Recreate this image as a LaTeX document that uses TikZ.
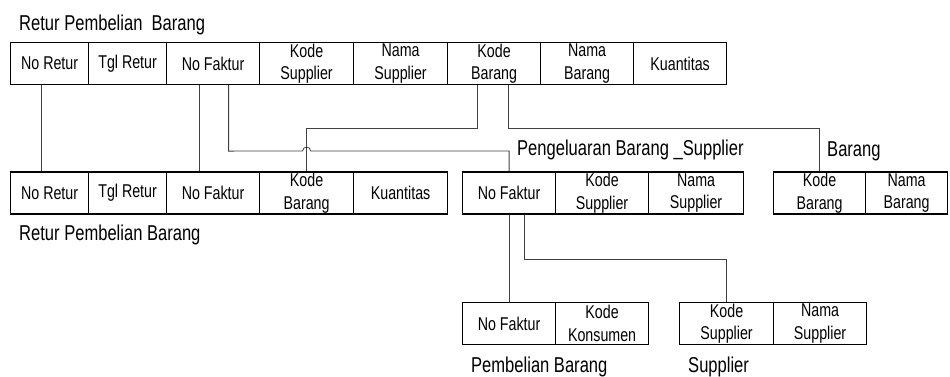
\documentclass[tikz,border=0pt]{standalone}
\usepackage{fontspec}
\setmainfont[FakeStretch=0.77]{Liberation Sans}
\usepackage{tikz}
\usetikzlibrary{positioning}

\tikzset{
  cell/.style={draw,line width=1.2pt,anchor=west,align=center,inner sep=0pt,
    minimum height=42pt,font=\fontsize{18.5}{22.5}\selectfont},
  tbltitle/.style={anchor=base west,inner sep=0pt,font=\fontsize{21.5}{25}\selectfont},
  link/.style={draw=black!75,line width=0.8pt}
}

\begin{document}
\begin{tikzpicture}[x=1pt,y=-1pt]
\useasboundingbox (0,0) rectangle (950,376);

% Upper table: Retur Pembelian Barang (unnormalised)
\node[tbltitle] (lblRetur) at (19,30) {Retur Pembelian\ \ Barang};
\foreach \nm/\x/\w/\txt in {rpNoRetur/10/78/No Retur,rpTglRetur/88/78/Tgl Retur,
    rpNoFaktur/166/93/No Faktur,rpKodeSupplier/259/94/Kode\\Supplier,
    rpNamaSupplier/353/94/Nama\\Supplier,rpKodeBarang/447/93/Kode\\Barang,
    rpNamaBarang/540/93/Nama\\Barang,rpKuantitas/633/93/Kuantitas}{
  \node[cell,minimum width=\w pt] (\nm) at (\x,63.5) {\txt};
}

% Middle row: Retur Pembelian Barang, Pengeluaran Barang _Supplier, Barang
\foreach \nm/\x/\w/\txt in {rbNoRetur/10/78/No Retur,rbTglRetur/88/78/Tgl Retur,
    rbNoFaktur/166/93/No Faktur,rbKodeBarang/259/94/Kode\\Barang,
    rbKuantitas/353/94/Kuantitas,
    pgNoFaktur/462/93/No Faktur,pgKodeSupplier/555/93/Kode\\Supplier,
    pgNamaSupplier/648/95/Nama\\Supplier,
    brKodeBarang/773/92/Kode\\Barang,brNamaBarang/865/82/Nama\\Barang}{
  \node[cell,minimum width=\w pt] (\nm) at (\x,193) {\txt};
}
\node[tbltitle] (lblReturBawah) at (19,240) {Retur Pembelian Barang};
\node[tbltitle] (lblPengeluaran) at (517,155) {Pengeluaran Barang \_Supplier};
\node[tbltitle] (lblBarang) at (827,156) {Barang};

% Bottom row: Pembelian Barang, Supplier
\foreach \nm/\x/\w/\txt in {pbNoFaktur/462/93/No Faktur,pbKodeKonsumen/555/93/Kode\\Konsumen,
    spKodeSupplier/679/94/Kode\\Supplier,spNamaSupplier/773/93/Nama\\Supplier}{
  \node[cell,minimum width=\w pt] (\nm) at (\x,323.5) {\txt};
}
\node[tbltitle] (lblPembelian) at (471,372) {Pembelian Barang};
\node[tbltitle] (lblSupplier) at (688,372) {Supplier};

% Connectors
\coordinate (hop) at (rbKodeBarang.north |- 0,151);
\draw[link] ([xshift=-8pt]rpNoRetur.south) -- ([xshift=-8pt]rbNoRetur.north);
\draw[link] ([xshift=-14pt]rpNoFaktur.south) -- ([xshift=-14pt]rbNoFaktur.north);
\draw[link] ([xshift=-16.5pt]rpKodeBarang.south) -- ++(0,43) -| (rbKodeBarang.north);
\draw[link] ([xshift=15.5pt]rpNoFaktur.south) -- ++(0,66) -- ([xshift=-4pt]hop)
  arc[start angle=180,end angle=0,radius=4pt] -| (pgNoFaktur.north);
\draw[link] ([xshift=14.5pt]rpKodeBarang.south) -- ++(0,43) -| (brKodeBarang.north);
\draw[link] (pgNoFaktur.south) -- (pbNoFaktur.north);
\draw[link] ([xshift=15pt]pgNoFaktur.south) -- ++(0,45) -| (spKodeSupplier.north);
\end{tikzpicture}
\end{document}
